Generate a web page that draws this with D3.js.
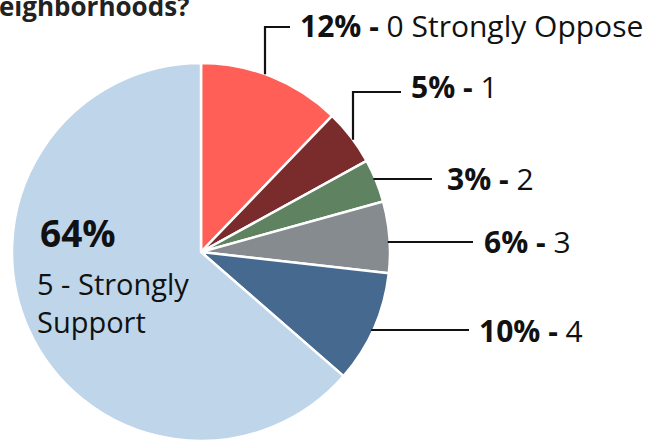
<!DOCTYPE html>
<html>
<head>
<meta charset="utf-8">
<script src="https://cdn.jsdelivr.net/npm/d3@7"></script>
<style>
  body { margin: 0; background: #fff; }
  svg { display: block; font-family: "Open Sans", sans-serif; }
</style>
</head>
<body>
<div id="chart"></div>
<script>
// data
var categories = ["0 Strongly Oppose", "1", "2", "3", "4", "5 - Strongly Support"];
var values = [12.2, 4.8, 3.7, 6.1, 9.6, 63.6];
var pctLabels = ["12%", "5%", "3%", "6%", "10%", "64%"];
var colors = ["#ff5f56", "#7a2c2c", "#5f8361", "#868b90", "#46698f", "#bed5ea"];

var W = 647, H = 443;
var cx = 201, cy = 252, R = 189;

var svg = d3.select("#chart").append("svg")
    .attr("width", W).attr("height", H);

// title (cut off in the original)
svg.append("text")
    .attr("x", -1).attr("y", 16)
    .style("font-size", "26px").style("font-weight", "bold").style("fill", "#222")
    .text("eighborhoods?");

var pie = d3.pie().sort(null).value(function(d) { return d; });
var arcs = pie(values);
var arc = d3.arc().innerRadius(0).outerRadius(R);

var g = svg.append("g").attr("transform", "translate(" + cx + "," + cy + ")");

g.selectAll("path.slice")
    .data(arcs)
    .enter().append("path")
    .attr("class", "slice")
    .attr("d", arc)
    .style("fill", function(d, i) { return colors[i]; })
    .style("stroke", "#fff")
    .style("stroke-width", 2.5)
    .style("stroke-linejoin", "round");

// callouts for the small slices
var callouts = [
    {kind: "v", x: 265, top: 27, end: 290, tx: 300, ty: 37},
    {kind: "v", x: 353, top: 92, end: 401, tx: 411, ty: 98},
    {kind: "h", y: 179, end: 432, tx: 447, ty: 190},
    {kind: "h", y: 242, end: 473, tx: 484, ty: 253},
    {kind: "h", y: 330, end: 469, tx: 479, ty: 342}
];

callouts.forEach(function(c, i) {
    var pts;
    if (c.kind === "v") {
        var yEdge = cy - Math.sqrt(R * R - (c.x - cx) * (c.x - cx));
        pts = [[c.x, yEdge], [c.x, c.top], [c.end, c.top]];
    } else {
        var xEdge = cx + Math.sqrt(R * R - (c.y - cy) * (c.y - cy)) - 2;
        pts = [[xEdge, c.y], [c.end, c.y]];
    }
    svg.append("path")
        .attr("d", d3.line()(pts))
        .style("fill", "none").style("stroke", "#111").style("stroke-width", 2.2);

    var t = svg.append("text")
        .attr("x", c.tx).attr("y", c.ty)
        .style("font-size", "30px").style("fill", "#111");
    t.append("tspan").style("font-weight", "bold").text(pctLabels[i] + " -");
    t.append("tspan").text(" " + categories[i]);
});

// big slice label inside the pie
svg.append("text")
    .attr("x", 40).attr("y", 247)
    .style("font-size", "37px").style("font-weight", "bold").style("fill", "#111")
    .text(pctLabels[5]);
var lines = categories[5].replace("Strongly Support", "Strongly|Support").split("|");
svg.selectAll("text.big")
    .data(lines)
    .enter().append("text")
    .attr("class", "big")
    .attr("x", 37)
    .attr("y", function(d, i) { return 295 + i * 38; })
    .style("font-size", "29px").style("fill", "#111")
    .text(function(d) { return d; });
</script>
</body>
</html>
